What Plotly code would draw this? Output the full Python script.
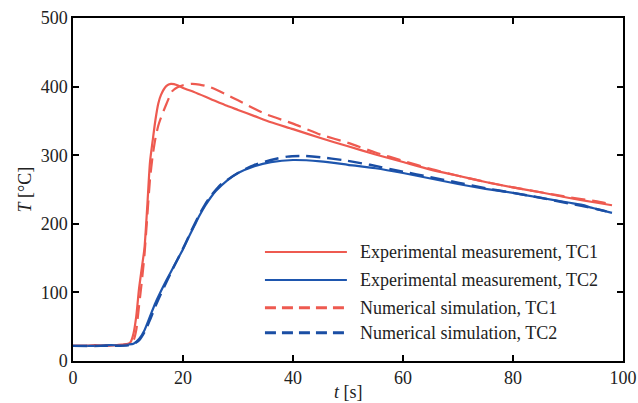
import plotly.graph_objects as go

# Experimental measurement, TC1
t_exp1 = [0, 2, 4, 6, 8, 9, 10, 10.5, 11, 11.5, 12, 12.5, 13, 13.5, 14, 14.5, 15, 15.5, 16, 17, 17.8,
          19, 20, 22, 25, 28, 30, 33, 36, 40, 45, 50, 55, 60, 65, 70, 75, 80, 85, 90, 95, 98]
T_exp1 = [22, 22, 23, 22, 23, 24, 25, 28, 40, 65, 105, 135, 165, 225, 290, 322, 352, 375, 388, 401, 404,
          402, 398, 392, 382, 372, 366, 357, 348, 338, 325, 313, 301, 290, 279, 270, 261, 253, 246, 238, 231, 227]

# Experimental measurement, TC2
t_exp2 = [0, 2, 4, 6, 8, 10, 11, 12, 13, 14, 15, 16, 17, 18, 19, 20, 21, 22, 23, 24, 25, 26, 28, 30,
          33, 36, 40, 45, 50, 55, 60, 65, 70, 75, 80, 85, 90, 93, 94, 95, 98]
T_exp2 = [22, 22, 22, 23, 23, 24, 25, 32, 45, 65, 85, 102, 118, 133, 148, 163, 180, 196, 212, 226, 238, 248, 263, 274,
          284, 290, 293, 291, 286, 281, 274, 266, 258, 251, 245, 238, 231, 227, 224, 222, 216]

# Numerical simulation, TC1
t_sim1 = [0, 5, 9, 10, 11, 11.5, 12, 12.5, 13, 13.5, 14, 14.5, 15, 15.5, 16, 17, 18, 19, 20, 21.5, 23, 25,
          28, 30, 35, 40, 45, 50, 55, 60, 65, 70, 75, 80, 85, 90, 95, 97]
T_sim1 = [22, 22, 23, 24, 30, 45, 80, 115, 155, 210, 265, 300, 325, 343, 355, 375, 393, 399, 402, 404, 403, 399,
          388, 380, 360, 346, 330, 318, 304, 292, 280, 270, 261, 253, 246, 239, 233, 230]

# Numerical simulation, TC2
t_sim2 = [0, 5, 10, 11, 12, 13, 14, 15, 16, 17, 18, 19, 20, 21, 22, 23, 24, 25, 27, 30, 33, 36, 39, 42,
          45, 49, 54, 60, 65, 70, 75, 80, 85, 90, 95, 97]
T_sim2 = [22, 22, 23, 25, 30, 42, 60, 80, 98, 115, 132, 148, 164, 181, 198, 214, 228, 240, 258, 274, 286, 293, 298, 299,
          297, 293, 286, 276, 268, 260, 252, 245, 238, 230, 222, 218]

legend_labels = ["Experimental measurement, TC1", "Experimental measurement, TC2",
                 "Numerical simulation, TC1", "Numerical simulation, TC2"]

x_ticks = [0, 20, 40, 60, 80, 100]
y_ticks = [0, 100, 200, 300, 400, 500]

RED = "#EE5A50"
BLUE = "#1E56AE"
BLUE_D = "#1A4EA4"
FONT = "Liberation Serif, Times New Roman, DejaVu Serif, serif"
TXT = "#222222"

fig = go.Figure()
fig.add_trace(go.Scatter(x=t_exp1, y=T_exp1, mode="lines", line=dict(color=RED, width=2.2, shape="spline", smoothing=0.6)))
fig.add_trace(go.Scatter(x=t_exp2, y=T_exp2, mode="lines", line=dict(color=BLUE, width=2.2, shape="spline", smoothing=0.6)))
fig.add_trace(go.Scatter(x=t_sim1, y=T_sim1, mode="lines", line=dict(color=RED, width=2.2, dash="14px,7px", shape="spline", smoothing=0.6)))
fig.add_trace(go.Scatter(x=t_sim2, y=T_sim2, mode="lines", line=dict(color=BLUE_D, width=2.4, dash="14px,7px", shape="spline", smoothing=0.6)))

# manual legend (long sample lines as in reference)
leg_styles = [dict(color=RED, width=2, dash="solid"), dict(color=BLUE, width=2, dash="solid"),
              dict(color=RED, width=3, dash="11px,6px"), dict(color=BLUE_D, width=3, dash="11px,6px")]
leg_y = [0.318, 0.236, 0.155, 0.082]
for lab, st, yy in zip(legend_labels, leg_styles, leg_y):
    fig.add_shape(type="line", xref="paper", yref="paper", x0=0.349, x1=0.498, y0=yy, y1=yy, line=st)
    fig.add_annotation(xref="paper", yref="paper", x=0.518, y=yy, text=lab, showarrow=False,
                       xanchor="left", yanchor="middle", font=dict(family=FONT, size=18, color=TXT))

# axis titles
fig.add_annotation(xref="paper", yref="paper", x=0.5, y=-0.090, text="<i>t</i> [s]", showarrow=False,
                   xanchor="center", yanchor="middle", font=dict(family=FONT, size=18, color=TXT))
fig.add_annotation(xref="paper", yref="paper", x=-0.089, y=0.5, text="<i>T</i> [°C]", showarrow=False,
                   textangle=-90, xanchor="center", yanchor="middle", font=dict(family=FONT, size=18, color=TXT))

axis_common = dict(showline=True, linecolor="black", linewidth=1.5, mirror="ticks", ticks="inside",
                   ticklen=6, tickwidth=1.5, tickcolor="black", showgrid=False, zeroline=False,
                   automargin=False, tickfont=dict(family=FONT, size=18, color=TXT))
fig.update_xaxes(range=[0, 100], tickvals=x_ticks, **axis_common)
fig.update_yaxes(range=[0, 500], tickvals=y_ticks, **axis_common)

fig.update_layout(width=638, height=403, margin=dict(l=73, r=15, t=18, b=42),
                  paper_bgcolor="white", plot_bgcolor="white", showlegend=False,
                  font=dict(family=FONT))
fig.write_html("out.html")
